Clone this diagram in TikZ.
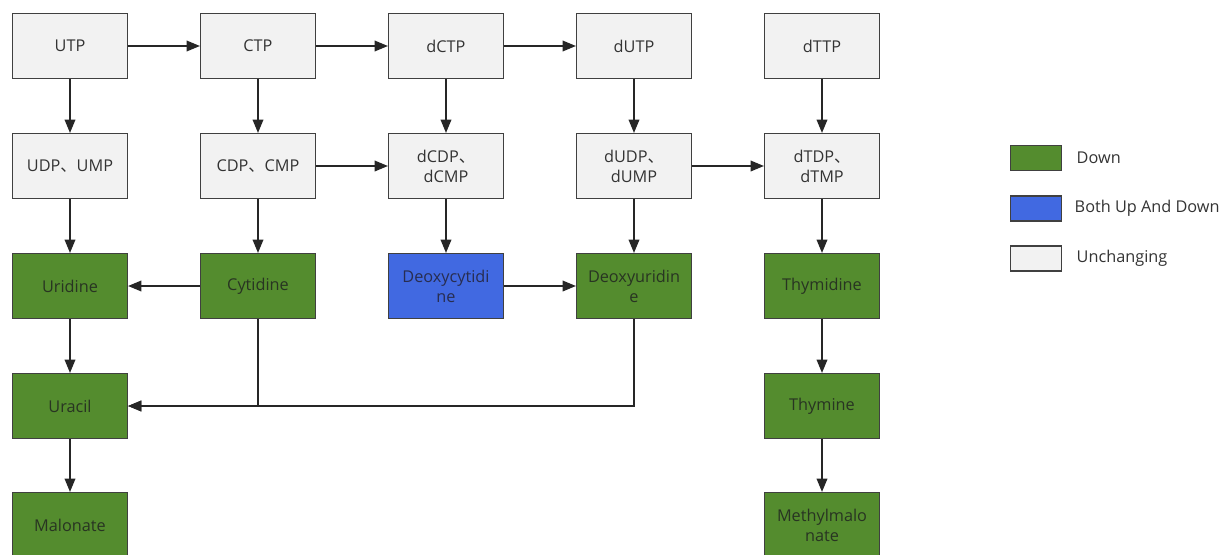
\documentclass[tikz,border=0pt]{standalone}
\usepackage{fontspec}
\setmainfont{Open Sans}
\newfontfamily\cjk{Noto Sans CJK SC}
\usetikzlibrary{arrows.meta}

\definecolor{downgreen}{RGB}{84,140,46}
\definecolor{bothblue}{RGB}{65,105,225}
\definecolor{flatgray}{RGB}{242,242,242}
\definecolor{edgegray}{RGB}{64,64,64}
\definecolor{labelgray}{RGB}{51,51,51}

\tikzset{every picture/.style={line width=1.1pt}}
\tikzset{
	metabox/.style={draw=edgegray, minimum width=86pt, minimum height=48.5pt, inner sep=1pt,
		align=center, text=labelgray, font=\fontsize{12.2}{15}\selectfont},
	flatbox/.style={metabox, fill=flatgray},
	downbox/.style={metabox, fill=downgreen, text={rgb,255:red,40;green,52;blue,34}},
	bothbox/.style={metabox, fill=bothblue, text={rgb,255:red,40;green,45;blue,80}},
	flow/.style={draw=black!85, -{Triangle[length=10pt,width=8pt]}},
	keybox/.style={draw=edgegray, minimum width=38pt, minimum height=18.5pt, inner sep=0pt},
	keytext/.style={anchor=west, inner sep=0pt, text=labelgray, font=\fontsize{12.2}{15}\selectfont}}

\begin{document}
\begin{tikzpicture}[x=0.75pt,y=0.75pt,yscale=-1,xscale=1]
	\clip (0,0) rectangle (1221,554);

	% Row 1
	\node[flatbox] (utp) at (70,46) {UTP};
	\node[flatbox] (ctp) at (258,46) {CTP};
	\node[flatbox] (dctp) at (446,46) {dCTP};
	\node[flatbox] (dutp) at (634,46) {dUTP};
	\node[flatbox] (dttp) at (822,46) {dTTP};
	% Row 2
	\node[flatbox] (udp) at (70,166) {UDP{\cjk 、}UMP};
	\node[flatbox] (cdp) at (258,166) {CDP{\cjk 、}CMP};
	\node[flatbox] (dcdp) at (446,166) {dCDP{\cjk 、}\\dCMP};
	\node[flatbox] (dudp) at (634,166) {dUDP{\cjk 、}\\dUMP};
	\node[flatbox] (dtdp) at (822,166) {dTDP{\cjk 、}\\dTMP};
	% Row 3
	\node[downbox] (urd) at (70,286) {Uridine};
	\node[downbox] (cyd) at (258,286) {Cytidine};
	\node[bothbox] (dcyd) at (446,286) {Deoxycytidi\\ne};
	\node[downbox] (durd) at (634,286) {Deoxyuridin\\e};
	\node[downbox] (thd) at (822,286) {Thymidine};
	% Row 4
	\node[downbox] (ura) at (70,406) {Uracil};
	\node[downbox] (thy) at (822,406) {Thymine};
	% Row 5
	\node[downbox] (mal) at (70,525) {Malonate};
	\node[downbox] (mmal) at (822,525) {Methylmalo\\nate};

	% Arrows
	\draw[flow] (utp) -- (ctp);
	\draw[flow] (ctp) -- (dctp);
	\draw[flow] (dctp) -- (dutp);
	\draw[flow] (utp) -- (udp);
	\draw[flow] (ctp) -- (cdp);
	\draw[flow] (dctp) -- (dcdp);
	\draw[flow] (dutp) -- (dudp);
	\draw[flow] (dttp) -- (dtdp);
	\draw[flow] (cdp) -- (dcdp);
	\draw[flow] (dudp) -- (dtdp);
	\draw[flow] (udp) -- (urd);
	\draw[flow] (cdp) -- (cyd);
	\draw[flow] (dcdp) -- (dcyd);
	\draw[flow] (dudp) -- (durd);
	\draw[flow] (dtdp) -- (thd);
	\draw[flow] (cyd) -- (urd);
	\draw[flow] (dcyd) -- (durd);
	\draw[flow] (urd) -- (ura);
	\draw[flow] (cyd.south) |- (ura.east);
	\draw[flow] (durd.south) |- (ura.east);
	\draw[flow] (ura) -- (mal);
	\draw[flow] (thd) -- (thy);
	\draw[flow] (thy) -- (mmal);

	% Legend
	\node[keybox, fill=downgreen] (kdown) at (1036,158) {};
	\node[keybox, fill=bothblue] (kboth) at (1036,208.5) {};
	\node[keybox, fill=flatgray] (kflat) at (1036,258.5) {};
	\node[keytext] (tdown) at (1076,158) {Down};
	\node[keytext] (tboth) at (1074,208.5) {Both Up And Down};
	\node[keytext] (tflat) at (1076,258.5) {Unchanging};
\end{tikzpicture}
\end{document}
